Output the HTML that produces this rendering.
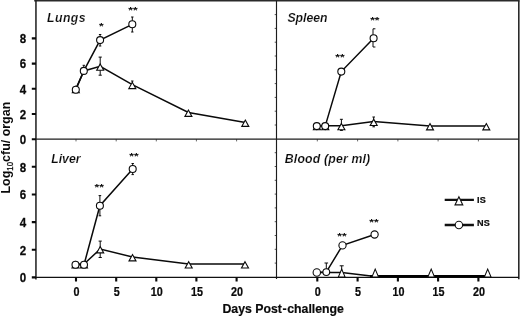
<!DOCTYPE html>
<html lang="en"><head><meta charset="utf-8"><title>Log10 cfu/organ vs Days Post-challenge</title>
<style>
html,body{margin:0;padding:0;background:#fff;}
body{width:520px;height:317px;overflow:hidden;font-family:"Liberation Sans",Arial,sans-serif;}
svg{display:block;}
</style></head><body>
<svg width="520" height="317" viewBox="0 0 520 317">
<rect width="520" height="317" fill="#fff"/>
<path d="M274.7 125.0H276.5 M274.7 111.2H276.5 M274.7 97.4H276.5 M274.7 83.6H276.5 M274.7 69.8H276.5 M274.7 56.0H276.5 M274.7 42.2H276.5 M274.7 28.4H276.5 M274.7 14.6H276.5 M274.7 263.1H276.5 M274.7 249.3H276.5 M274.7 235.5H276.5 M274.7 221.7H276.5 M274.7 207.9H276.5 M274.7 194.1H276.5 M274.7 180.3H276.5 M274.7 166.5H276.5 M274.7 152.7H276.5" stroke="#555" stroke-width="1" fill="none"/>
<path d="M76.0 139.2v2.2 M317.3 139.2v2.2 M116.2 139.2v2.2 M357.6 139.2v2.2 M156.3 139.2v2.2 M397.9 139.2v2.2 M196.4 139.2v2.2 M438.1 139.2v2.2 M236.6 139.2v2.2 M478.4 139.2v2.2" stroke="#666" stroke-width="1" fill="none"/>
<path d="M34.2 0.75H519.6" stroke="#2a2a2a" stroke-width="1.5" fill="none"/>
<path d="M35.95 0.6V279.5" stroke="#1c1c1c" stroke-width="1.5" fill="none"/>
<path d="M276.5 0.6V279.1" stroke="#1c1c1c" stroke-width="1.15" fill="none"/>
<path d="M518.8 0.6V279.3" stroke="#2a2a2a" stroke-width="1.6" fill="none"/>
<path d="M36.0 139.2H518.8" stroke="#1c1c1c" stroke-width="1.2" fill="none"/>
<path d="M36.0 277.3H518.8" stroke="#111" stroke-width="1.35" fill="none"/>
<path d="M31.8 139.2H36.0 M31.8 277.4H36.0 M31.8 114.0H36.0 M31.8 249.8H36.0 M31.8 88.8H36.0 M31.8 222.1H36.0 M31.8 63.6H36.0 M31.8 194.5H36.0 M31.8 38.4H36.0 M31.8 166.8H36.0" stroke="#0a0a0a" stroke-width="2.1" fill="none"/>
<path d="M76.0 277.3v4.1 M317.3 277.3v4.1 M116.2 277.3v4.1 M357.6 277.3v4.1 M156.3 277.3v4.1 M397.9 277.3v4.1 M196.4 277.3v4.1 M438.1 277.3v4.1 M236.6 277.3v4.1 M478.4 277.3v4.1" stroke="#0a0a0a" stroke-width="2.1" fill="none"/>
<g font-family="'Liberation Sans', Arial, sans-serif" font-weight="bold" fill="#0a0a0a">
<text transform="translate(26.1 143.9) scale(0.87 1)" font-size="13.3" text-anchor="end" stroke="#0a0a0a" stroke-width="0.25">0</text>
<text transform="translate(26.1 118.7) scale(0.87 1)" font-size="13.3" text-anchor="end" stroke="#0a0a0a" stroke-width="0.25">2</text>
<text transform="translate(26.1 93.5) scale(0.87 1)" font-size="13.3" text-anchor="end" stroke="#0a0a0a" stroke-width="0.25">4</text>
<text transform="translate(26.1 68.3) scale(0.87 1)" font-size="13.3" text-anchor="end" stroke="#0a0a0a" stroke-width="0.25">6</text>
<text transform="translate(26.1 43.1) scale(0.87 1)" font-size="13.3" text-anchor="end" stroke="#0a0a0a" stroke-width="0.25">8</text>
<text transform="translate(26.1 282.1) scale(0.87 1)" font-size="13.3" text-anchor="end" stroke="#0a0a0a" stroke-width="0.25">0</text>
<text transform="translate(26.1 254.5) scale(0.87 1)" font-size="13.3" text-anchor="end" stroke="#0a0a0a" stroke-width="0.25">2</text>
<text transform="translate(26.1 226.8) scale(0.87 1)" font-size="13.3" text-anchor="end" stroke="#0a0a0a" stroke-width="0.25">4</text>
<text transform="translate(26.1 199.2) scale(0.87 1)" font-size="13.3" text-anchor="end" stroke="#0a0a0a" stroke-width="0.25">6</text>
<text transform="translate(26.1 171.5) scale(0.87 1)" font-size="13.3" text-anchor="end" stroke="#0a0a0a" stroke-width="0.25">8</text>
<text transform="translate(76.5 295.7) scale(0.81 1)" font-size="13.3" text-anchor="middle" stroke="#0a0a0a" stroke-width="0.25">0</text>
<text transform="translate(317.8 295.7) scale(0.81 1)" font-size="13.3" text-anchor="middle" stroke="#0a0a0a" stroke-width="0.25">0</text>
<text transform="translate(116.7 295.7) scale(0.81 1)" font-size="13.3" text-anchor="middle" stroke="#0a0a0a" stroke-width="0.25">5</text>
<text transform="translate(358.1 295.7) scale(0.81 1)" font-size="13.3" text-anchor="middle" stroke="#0a0a0a" stroke-width="0.25">5</text>
<text transform="translate(156.8 295.7) scale(0.81 1)" font-size="13.3" text-anchor="middle" stroke="#0a0a0a" stroke-width="0.25">10</text>
<text transform="translate(398.4 295.7) scale(0.81 1)" font-size="13.3" text-anchor="middle" stroke="#0a0a0a" stroke-width="0.25">10</text>
<text transform="translate(196.9 295.7) scale(0.81 1)" font-size="13.3" text-anchor="middle" stroke="#0a0a0a" stroke-width="0.25">15</text>
<text transform="translate(438.6 295.7) scale(0.81 1)" font-size="13.3" text-anchor="middle" stroke="#0a0a0a" stroke-width="0.25">15</text>
<text transform="translate(237.1 295.7) scale(0.81 1)" font-size="13.3" text-anchor="middle" stroke="#0a0a0a" stroke-width="0.25">20</text>
<text transform="translate(478.9 295.7) scale(0.81 1)" font-size="13.3" text-anchor="middle" stroke="#0a0a0a" stroke-width="0.25">20</text>
<text transform="translate(283.2 313.4) scale(0.925 1)" font-size="13.3" text-anchor="middle" stroke="#0a0a0a" stroke-width="0.2">Days Post<tspan dx="0.7">-</tspan><tspan dx="0.7">challenge</tspan></text>
<text transform="translate(9.9 193.5) rotate(-90) scale(0.937 1)" font-size="13.3">Log<tspan font-size="8.4" dy="2.6" font-weight="normal" stroke="#111" stroke-width="0.3">10</tspan><tspan dy="-2.6">cfu/ organ</tspan></text>
<g font-style="italic" stroke="#fff" stroke-width="0.16">
<text transform="translate(47.0 21.7) scale(0.915 1)" font-size="13.4" letter-spacing="0.5">Lungs</text>
<text transform="translate(287.4 21.6) scale(0.915 1)" font-size="13.4">Spleen</text>
<text transform="translate(51.2 162.9) scale(0.915 1)" font-size="13.4">Liver</text>
<text transform="translate(284.8 162.8) scale(0.915 1)" font-size="13.4" letter-spacing="0.2">Blood (per ml)</text>
</g>
<text transform="translate(477.1 202.8) scale(0.94 1)" font-size="9.7" stroke="#0a0a0a" stroke-width="0.2">IS</text>
<text transform="translate(477.1 226.4) scale(0.94 1)" font-size="9.7" stroke="#0a0a0a" stroke-width="0.2">NS</text>
<text transform="translate(101.4 29.099999999999998) scale(1 0.82)" font-size="12" text-anchor="middle">*</text>
<text transform="translate(132.9 12.700000000000001) scale(1 0.82)" font-size="12" text-anchor="middle">**</text>
<text transform="translate(339.9 60.1) scale(1 0.82)" font-size="12" text-anchor="middle">**</text>
<text transform="translate(374.8 23.299999999999997) scale(1 0.82)" font-size="12" text-anchor="middle">**</text>
<text transform="translate(99.2 189.70000000000002) scale(1 0.82)" font-size="12" text-anchor="middle">**</text>
<text transform="translate(134 158.6) scale(1 0.82)" font-size="12" text-anchor="middle">**</text>
<text transform="translate(341.9 238.8) scale(1 0.82)" font-size="12" text-anchor="middle">**</text>
<text transform="translate(374.0 224.6) scale(1 0.82)" font-size="12" text-anchor="middle">**</text>
</g>
<g stroke="#0a0a0a" fill="none">
<path d="M100.2 57.1V75.2M98.6 57.1h3.2M98.6 75.2h3.2 M83.8 65.3V70.0M82.6 65.3h2.4 M100.1 34.5V46.0M98.9 34.5h2.4M98.9 46.0h2.4 M132.3 17.0V32.0M131.1 17.0h2.4M131.1 32.0h2.4 M132.3 81.0V88.0M131.1 81.0h2.4" stroke-width="1"/>
<polyline points="75.8,88.9 83.9,71.0 100.2,66.4 132.3,84.7 188.4,112.5 245.3,122.5" stroke-width="1.5"/>
<polyline points="75.8,89.7 83.8,70.9 100.1,40.1 132.3,24.3" stroke-width="1.5"/>
<g fill="#fff" stroke-width="1.1">
<path d="M75.8 86.5L79.3 92.8H72.3Z"/>
<path d="M100.2 64.0L103.7 70.3H96.7Z"/>
<path d="M132.3 82.3L135.8 88.6H128.8Z"/>
<path d="M188.4 110.1L191.9 116.4H184.9Z"/>
<path d="M245.3 120.1L248.8 126.4H241.8Z"/>
<circle cx="75.8" cy="89.7" r="3.5"/>
<circle cx="83.8" cy="70.9" r="3.5"/>
<circle cx="100.1" cy="40.1" r="3.5"/>
<circle cx="132.3" cy="24.3" r="3.5"/>
</g></g>
<g stroke="#0a0a0a" fill="none">
<path d="M341.4 119.3V130.4M339.9 119.3h3.0M339.9 130.4h3.0 M373.7 117.0V126.8M372.4 117.0h2.6M372.4 126.8h2.6 M373.0 28.8V47.0M373.0 28.8h2.4M373.0 47.0h2.4" stroke-width="1"/>
<polyline points="316.9,125.8 325.3,125.8 341.4,125.8 373.7,121.6 430.0,126.0 486.3,126.0" stroke-width="1.5"/>
<polyline points="316.8,126.1 325.2,126.1 341.3,71.6 373.6,38.2" stroke-width="1.5"/>
<g fill="#fff" stroke-width="1.1">
<path d="M316.9 123.4L320.4 129.7H313.4Z"/>
<path d="M325.3 123.4L328.8 129.7H321.8Z"/>
<path d="M341.4 123.4L344.9 129.7H337.9Z"/>
<path d="M373.7 119.2L377.2 125.5H370.2Z"/>
<path d="M430.0 123.6L433.5 129.9H426.5Z"/>
<path d="M486.3 123.6L489.8 129.9H482.8Z"/>
<circle cx="316.8" cy="126.1" r="3.5"/>
<circle cx="325.2" cy="126.1" r="3.5"/>
<circle cx="341.3" cy="71.6" r="3.5"/>
<circle cx="373.6" cy="38.2" r="3.5"/>
</g></g>
<g stroke="#0a0a0a" fill="none">
<path d="M100.2 241.1V257.5M98.6 241.1h3.2M98.6 257.5h3.2 M99.9 195.6V215.8M98.6 195.6h2.6M98.6 215.8h2.6 M132.7 163.5V174.6M131.5 163.5h2.4M131.5 174.6h2.4" stroke-width="1"/>
<polyline points="75.5,264.1 84.0,264.1 100.2,249.0 132.5,257.0 188.7,264.1 245.0,264.1" stroke-width="1.5"/>
<polyline points="75.5,264.7 84.0,264.7 99.9,205.7 132.7,169.0" stroke-width="1.5"/>
<g fill="#fff" stroke-width="1.1">
<path d="M75.5 261.7L79.0 268.0H72.0Z"/>
<path d="M84.0 261.7L87.5 268.0H80.5Z"/>
<path d="M100.2 246.6L103.7 252.9H96.7Z"/>
<path d="M132.5 254.6L136.0 260.9H129.0Z"/>
<path d="M188.7 261.7L192.2 268.0H185.2Z"/>
<path d="M245.0 261.7L248.5 268.0H241.5Z"/>
<circle cx="75.5" cy="264.7" r="3.5"/>
<circle cx="84.0" cy="264.7" r="3.5"/>
<circle cx="99.9" cy="205.7" r="3.5"/>
<circle cx="132.7" cy="169.0" r="3.5"/>
</g></g>
<g stroke="#0a0a0a" fill="none">
<path d="M326.3 263.0V272.0M324.5 263.0h3.6 M341.7 265.8V272.0M339.7 265.8h4.0" stroke-width="1"/>
<polyline points="316.8,272.6 326.3,272.4 341.7,272.6 371,275.9" stroke-width="1.5"/>
<path d="M370 276.2H487.7" stroke="#000" stroke-width="2.6"/>
<polyline points="316.8,272.5 326.3,272.1 342.5,245.4 374.6,234.5" stroke-width="1.5"/>
<g fill="#fff" stroke-width="1.1">
<path d="M341.7 269.1L345.1 277.1H338.3Z"/>
<path d="M375.2 269.1L378.6 277.1H371.9Z"/>
<path d="M431.2 269.1L434.6 277.1H427.8Z"/>
<path d="M487.7 269.1L491.1 277.1H484.3Z"/>
<circle cx="316.8" cy="272.5" r="3.7"/>
<circle cx="326.3" cy="272.1" r="3.4"/>
<circle cx="342.5" cy="245.4" r="3.6"/>
<circle cx="374.6" cy="234.5" r="3.6"/>
</g></g>
<g stroke="#111" fill="#fff">
<path d="M444.7 199.9H473.9M444.7 225H473.9" stroke-width="2.3" fill="none"/>
<g stroke-width="1.1">
<path d="M458.9 196.7L462.8 204.9H455.0Z"/>
<circle cx="458.9" cy="225.0" r="3.7"/>
</g></g>
</svg>
</body></html>
